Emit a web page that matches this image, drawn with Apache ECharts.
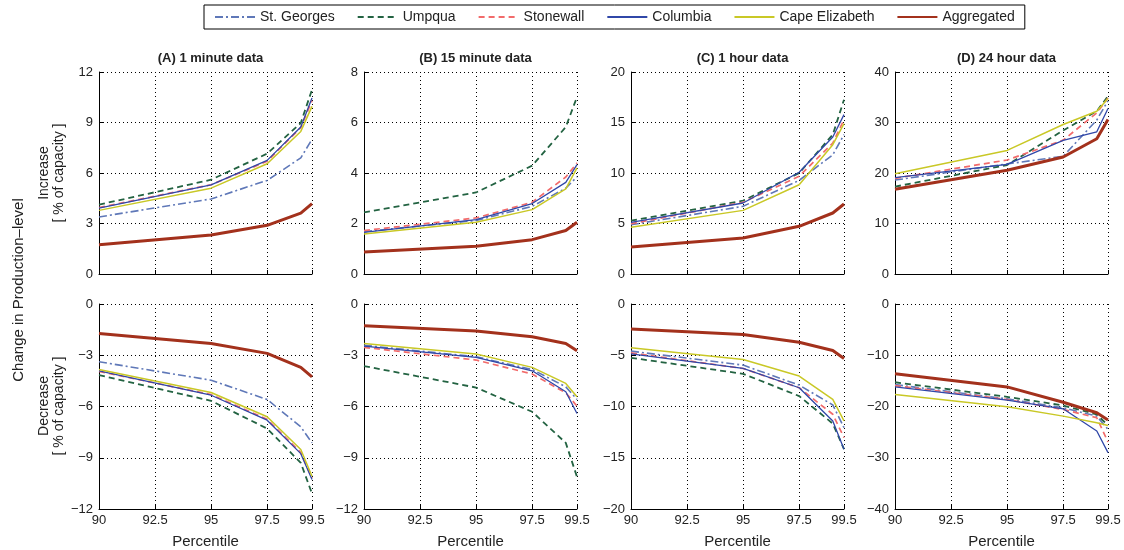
<!DOCTYPE html>
<html>
<head>
<meta charset="utf-8">
<script src="https://cdn.jsdelivr.net/npm/echarts@6/dist/echarts.min.js"></script>
<style>
  html, body { margin: 0; padding: 0; background: #fff; }
  #chart { width: 1124px; height: 550px; }
</style>
</head>
<body>
<div id="chart"></div>
<script>
// Percentile levels at which each ramp statistic is evaluated
const percentiles = [90, 95, 97.5, 99, 99.5];
const xTickStep = 2.5;

const stations = ['St. Georges', 'Umpqua', 'Stonewall', 'Columbia', 'Cape Elizabeth', 'Aggregated'];
const panelTitles = ['(A) 1 minute data', '(B) 15 minute data', '(C) 1 hour data', '(D) 24 hour data'];

// Increase in production level [% of capacity]; one row per panel (A..D)
const stGeorgesUp = [[3.39, 4.46, 5.56, 6.9, 8.0], [1.68, 2.12, 2.68, 3.4, 3.85], [4.88, 6.7, 9.27, 11.8, 13.8], [18.6, 21.8, 23.3, 30.5, 34.3]];
const umpquaUp = [[4.12, 5.6, 7.15, 8.97, 10.95], [2.44, 3.23, 4.29, 5.82, 7.01], [5.28, 7.26, 10.0, 13.8, 17.26], [17.3, 21.58, 28.42, 32.24, 35.2]];
const stonewallUp = [[3.95, 5.3, 6.7, 8.7, 10.3], [1.72, 2.22, 2.84, 3.84, 4.4], [4.98, 7.1, 9.67, 12.97, 15.28], [18.95, 22.57, 26.5, 31.9, 34.87]];
const columbiaUp = [[3.92, 5.3, 6.75, 8.73, 10.45], [1.65, 2.15, 2.79, 3.63, 4.33], [5.12, 7.03, 10.07, 13.56, 15.78], [19.08, 21.71, 26.45, 28.16, 32.76]];
const capeElizabethUp = [[3.78, 5.1, 6.55, 8.47, 9.96], [1.58, 2.05, 2.55, 3.37, 4.2], [4.62, 6.3, 8.84, 12.8, 14.88], [19.87, 24.47, 29.6, 32.24, 34.74]];
const aggregatedUp = [[1.74, 2.32, 2.89, 3.62, 4.18], [0.87, 1.1, 1.36, 1.72, 2.05], [2.67, 3.56, 4.72, 6.04, 6.93], [16.78, 20.53, 23.16, 26.78, 30.59]];

// Decrease in production level [% of capacity]; one row per panel (A..D)
const stGeorgesDown = [[-3.38, -4.46, -5.59, -7.19, -8.13], [-2.42, -3.09, -3.83, -4.85, -5.59], [-4.6, -5.96, -7.91, -9.85, -12.06], [-15.73, -18.51, -20.26, -21.88, -24.47]];
const umpquaDown = [[-4.16, -5.67, -7.29, -9.3, -11.1], [-3.63, -4.89, -6.31, -8.13, -10.12], [-5.25, -6.81, -8.98, -11.67, -14.16], [-15.27, -18.12, -19.8, -21.55, -23.69]];
const stonewallDown = [[-3.95, -5.3, -6.75, -8.7, -10.2], [-2.54, -3.28, -4.1, -5.2, -5.98], [-4.77, -6.29, -8.17, -10.76, -13.03], [-15.92, -18.64, -20.58, -22.2, -26.93]];
const columbiaDown = [[-3.91, -5.34, -6.8, -8.76, -10.28], [-2.46, -3.13, -3.91, -5.14, -6.41], [-4.86, -6.29, -8.17, -11.41, -14.16], [-16.18, -18.77, -20.45, -24.79, -29.0]];
const capeElizabethDown = [[-3.83, -5.18, -6.6, -8.52, -10.08], [-2.31, -2.93, -3.71, -4.65, -5.43], [-4.28, -5.41, -7.03, -9.3, -11.41], [-17.67, -20.06, -21.88, -23.17, -23.69]];
const aggregatedDown = [[-1.72, -2.31, -2.89, -3.71, -4.26], [-1.27, -1.58, -1.92, -2.31, -2.74], [-2.43, -2.98, -3.73, -4.54, -5.32], [-13.59, -16.18, -19.16, -21.23, -22.65]];

// Y ranges per panel
const upMax = [12, 8, 20, 40];
const upStep = [3, 2, 5, 10];
const downMin = [-12, -12, -20, -40];
const downStep = [3, 3, 5, 10];

const upSets = [stGeorgesUp, umpquaUp, stonewallUp, columbiaUp, capeElizabethUp, aggregatedUp];
const downSets = [stGeorgesDown, umpquaDown, stonewallDown, columbiaDown, capeElizabethDown, aggregatedDown];

const FONT = '"Liberation Sans", Arial, Helvetica, sans-serif';

const styles = [
  { color: '#5f78b8', width: 1.6, type: [8, 3, 2, 3] },
  { color: '#236342', width: 1.8, type: [6, 4] },
  { color: '#f26b6b', width: 1.7, type: [6, 4] },
  { color: '#3047a8', width: 1.3, type: 'solid' },
  { color: '#c9c826', width: 1.5, type: 'solid' },
  { color: '#a3311c', width: 3, type: 'solid' }
];

const gridLefts = [99, 364, 631, 895];
const gridWidth = 213;
const rows = [{ top: 72, height: 202 }, { top: 304, height: 205 }];

const minus = v => String(v).replace('-', '\u2212');

const grids = [], xAxes = [], yAxes = [], series = [], titles = [];

for (let r = 0; r < 2; r++) {
  for (let p = 0; p < 4; p++) {
    const idx = r * 4 + p;
    grids.push({ left: gridLefts[p], width: gridWidth, top: rows[r].top, height: rows[r].height });
    xAxes.push({
      type: 'value', gridIndex: idx, min: 90, max: 99.5, interval: xTickStep,
      axisLine: { show: true, onZero: false, lineStyle: { color: '#000', width: 1 } },
      axisTick: { show: true, inside: true, length: 4, lineStyle: { color: '#000' } },
      axisLabel: { show: r === 1, color: '#222', fontSize: 13, fontFamily: FONT, margin: 5 },
      splitLine: { show: true, lineStyle: { color: '#000', width: 1, type: [1, 3] } },
      name: r === 1 ? 'Percentile' : '',
      nameLocation: 'middle', nameGap: 25,
      nameTextStyle: { fontSize: 15, color: '#222', fontFamily: FONT }
    });
    yAxes.push({
      type: 'value', gridIndex: idx,
      min: r === 0 ? 0 : downMin[p],
      max: r === 0 ? upMax[p] : 0,
      interval: r === 0 ? upStep[p] : downStep[p],
      axisLine: { show: true, onZero: false, lineStyle: { color: '#000', width: 1 } },
      axisTick: { show: true, inside: true, length: 4, lineStyle: { color: '#000' } },
      axisLabel: { color: '#222', fontSize: 13, fontFamily: FONT, margin: 6, formatter: minus },
      splitLine: { show: true, lineStyle: { color: '#000', width: 1, type: [1, 3] } }
    });
    const sets = r === 0 ? upSets : downSets;
    stations.forEach((name, s) => {
      series.push({
        type: 'line', name, xAxisIndex: idx, yAxisIndex: idx,
        data: percentiles.map((x, i) => [x, sets[s][p][i]]),
        showSymbol: false, symbol: 'none', silent: true, animation: false,
        lineStyle: { color: styles[s].color, width: styles[s].width, type: styles[s].type },
        itemStyle: { color: styles[s].color },
        z: 2 + s
      });
    });
  }
}

panelTitles.forEach((t, p) => {
  titles.push({
    text: t, left: gridLefts[p] + gridWidth / 2, top: 47, textAlign: 'center',
    textStyle: { fontSize: 13, fontWeight: 'bold', color: '#222', fontFamily: FONT }
  });
});

const chart = echarts.init(document.getElementById('chart'), null, { renderer: 'canvas' });
chart.setOption({
  backgroundColor: '#fff',
  animation: false,
  title: titles,
  legend: {
    data: stations, left: 204, top: 5, width: 840,
    padding: [5, 10, 5, 10], itemGap: 22, itemWidth: 40, itemHeight: 12,
    borderColor: '#000', borderWidth: 1, borderRadius: 0,
    itemStyle: { opacity: 0, borderWidth: 0 },
    textStyle: { fontSize: 14, color: '#222', fontFamily: FONT },
    selectedMode: false
  },
  grid: grids,
  xAxis: xAxes,
  yAxis: yAxes,
  series,
  graphic: [
    { type: 'text', x: 19, y: 290, rotation: Math.PI / 2,
      style: { text: 'Change in Production\u2013level', font: '15px ' + FONT, fill: '#222', textAlign: 'center', textVerticalAlign: 'middle' } },
    { type: 'text', x: 44, y: 173, rotation: Math.PI / 2,
      style: { text: 'Increase', font: '14px ' + FONT, fill: '#222', textAlign: 'center', textVerticalAlign: 'middle' } },
    { type: 'text', x: 59, y: 173, rotation: Math.PI / 2,
      style: { text: '[ % of capacity ]', font: '14px ' + FONT, fill: '#222', textAlign: 'center', textVerticalAlign: 'middle' } },
    { type: 'text', x: 44, y: 406, rotation: Math.PI / 2,
      style: { text: 'Decrease', font: '14px ' + FONT, fill: '#222', textAlign: 'center', textVerticalAlign: 'middle' } },
    { type: 'text', x: 59, y: 406, rotation: Math.PI / 2,
      style: { text: '[ % of capacity ]', font: '14px ' + FONT, fill: '#222', textAlign: 'center', textVerticalAlign: 'middle' } }
  ]
});
</script>
</body>
</html>
